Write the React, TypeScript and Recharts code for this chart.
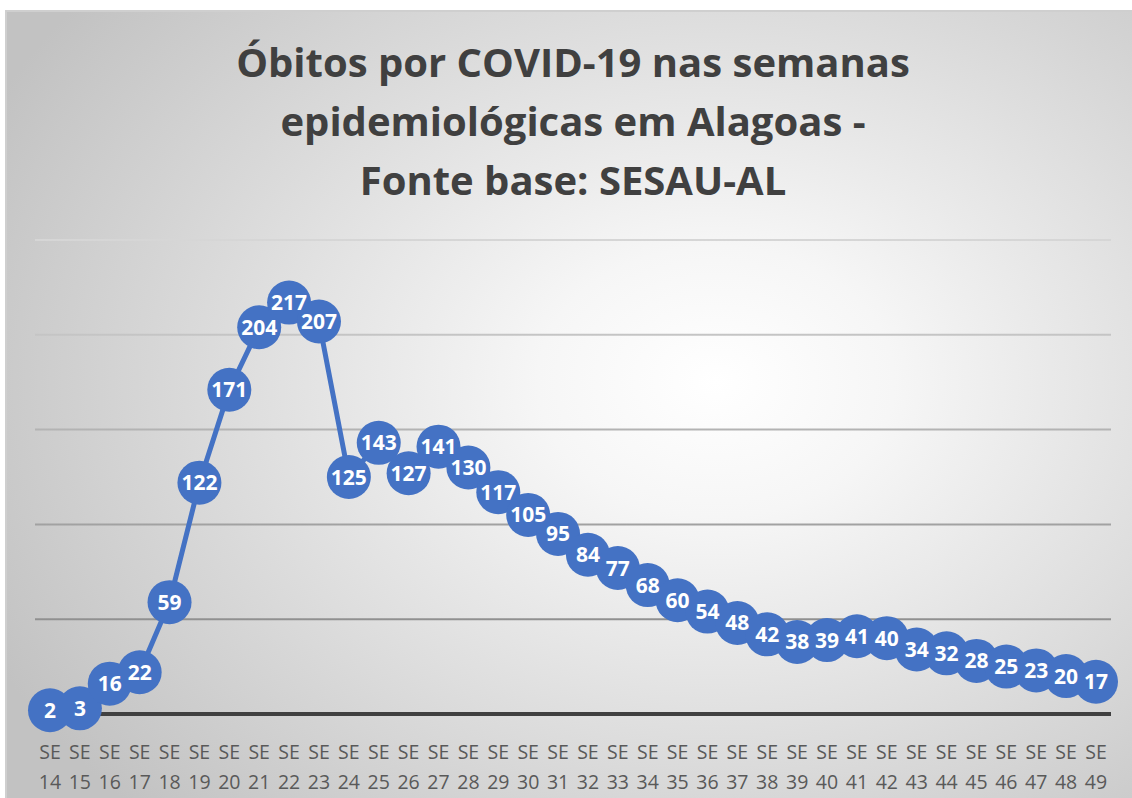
import React from 'react';
import { LineChart, Line, XAxis, YAxis, CartesianGrid } from 'recharts';

const weeks = ['14','15','16','17','18','19','20','21','22','23','24','25','26','27','28','29','30','31','32','33','34','35','36','37','38','39','40','41','42','43','44','45','46','47','48','49'];
const obitos = [2,3,16,22,59,122,171,204,217,207,125,143,127,141,130,117,105,95,84,77,68,60,54,48,42,38,39,41,40,34,32,28,25,23,20,17];
const yTicks = [0, 50, 100, 150, 200, 250];
const titleLines = ['Óbitos por COVID-19 nas semanas', 'epidemiológicas em Alagoas -', 'Fonte base: SESAU-AL'];

const data = weeks.map((w, i) => ({ week: w, obitos: obitos[i] }));

const W = 1132;
const H = 798;
const BLUE = '#4472C4';
const FONT = "'Open Sans', 'Noto Sans', sans-serif";

const CircleDot = (props: any) => {
  const { cx, cy, index } = props;
  if (cx == null || cy == null) return <g key={index} />;
  return <circle key={`c${index}`} cx={cx} cy={cy} r={22} fill={BLUE} />;
};

const TextDot = (props: any) => {
  const { cx, cy, index, payload } = props;
  if (cx == null || cy == null) return <g key={index} />;
  return (
    <text key={`t${index}`} x={cx} y={cy + 7.5} textAnchor="middle" fill="#ffffff" fontFamily={FONT} fontWeight={700} fontSize={21}>
      {payload.obitos}
    </text>
  );
};

const WeekTick = (props: any) => {
  const { x, y, payload } = props;
  return (
    <g>
      <text x={x} y={y + 37} textAnchor="middle" fill="#595959" fontFamily={FONT} fontSize={19.5}>SE</text>
      <text x={x} y={y + 67} textAnchor="middle" fill="#595959" fontFamily={FONT} fontSize={19.5}>{payload.value}</text>
    </g>
  );
};

export default function App() {
  return (
    <div style={{ position: 'absolute', left: 0, top: 0, width: W, height: H, background: '#ffffff' }}>
      <div
        style={{
          position: 'absolute',
          left: 5,
          top: 10,
          width: W - 5,
          height: H - 10,
          boxSizing: 'border-box',
          borderTop: '2px solid #cfcfcf',
          borderLeft: '2px solid #cfcfcf',
          background: 'radial-gradient(ellipse 72% 78% at 63% 47%, #ffffff 0%, #f6f6f6 22%, #c2c2c2 100%)',
        }}
      />
      <div
        style={{
          position: 'absolute',
          left: 0,
          top: 32,
          width: W + 14,
          textAlign: 'center',
          fontFamily: FONT,
          fontWeight: 700,
          fontSize: 40,
          lineHeight: '59px',
          color: '#404040',
        }}
      >
        {titleLines.map((t) => (
          <div key={t}>{t}</div>
        ))}
      </div>
      <div style={{ position: 'absolute', left: 0, top: 0 }}>
        <LineChart width={W} height={H} data={data} margin={{ top: 240, right: 21, bottom: 0, left: 35 }}>
          <defs>
            <linearGradient id="gridGrad" gradientUnits="userSpaceOnUse" x1="0" y1="240" x2="0" y2="714">
              <stop offset="0%" stopColor="#d6d6d6" />
              <stop offset="100%" stopColor="#7f7f7f" />
            </linearGradient>
          </defs>
          <CartesianGrid vertical={false} stroke="url(#gridGrad)" strokeWidth={2} />
          <XAxis
            dataKey="week"
            interval={0}
            padding={{ left: 15, right: 15 }}
            height={84}
            axisLine={{ stroke: '#404040', strokeWidth: 4 }}
            tickLine={false}
            tick={<WeekTick />}
          />
          <YAxis hide domain={[0, 250]} ticks={yTicks} width={0} />
          <Line
            type="linear"
            dataKey="obitos"
            stroke={BLUE}
            strokeWidth={5}
            dot={<CircleDot />}
            activeDot={false}
            isAnimationActive={false}
          />
          <Line
            type="linear"
            dataKey="obitos"
            stroke="none"
            strokeWidth={0}
            dot={<TextDot />}
            activeDot={false}
            isAnimationActive={false}
          />
        </LineChart>
      </div>
    </div>
  );
}
